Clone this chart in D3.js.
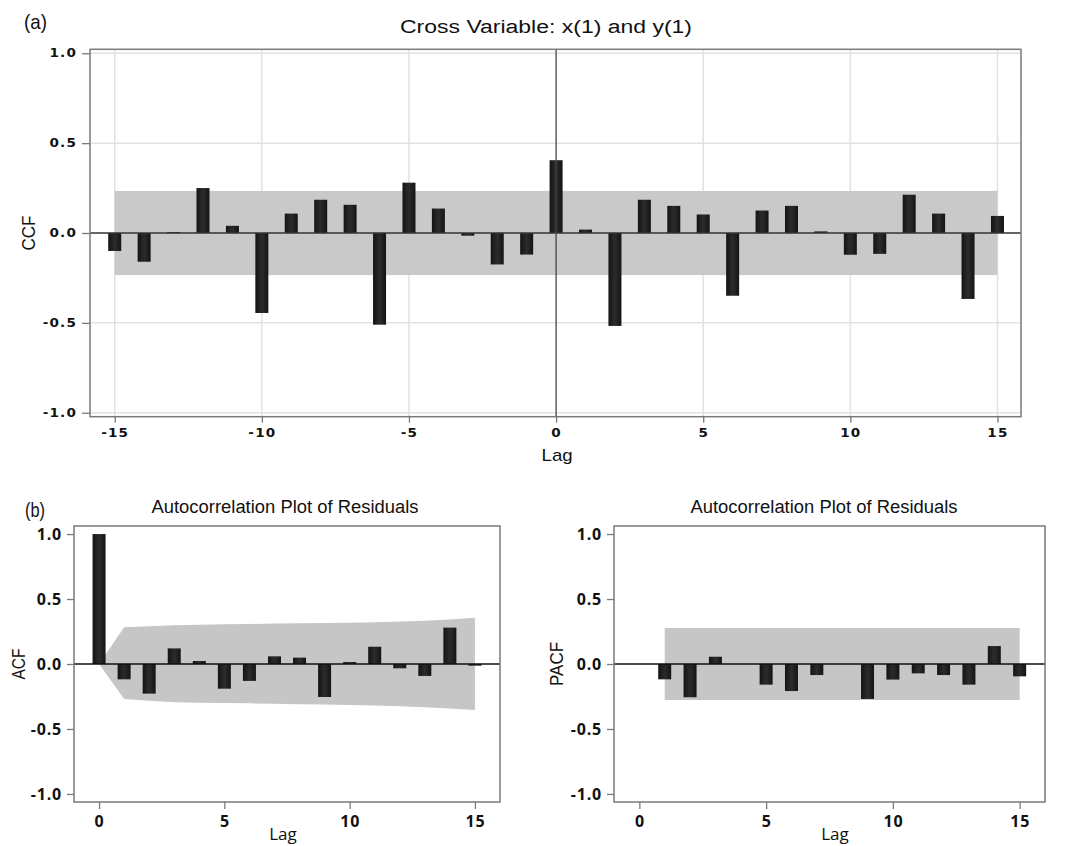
<!DOCTYPE html>
<html>
<head>
<meta charset="utf-8">
<script src="https://cdn.jsdelivr.net/npm/d3@7"></script>
<style>
  body { margin: 0; background: #fff; }
  svg { display: block; }
</style>
</head>
<body>
<svg id="chart" width="1068" height="846"></svg>
<script>
// panel (a): cross correlation
const ccf_lags = d3.range(-15, 16);
const ccf_values = [-0.10, -0.16, 0.005, 0.25, 0.04, -0.445, 0.108, 0.185, 0.157, -0.51, 0.28, 0.136, -0.015, -0.175, -0.12,
                    0.405, 0.019, -0.517, 0.185, 0.151, 0.103, -0.349, 0.125, 0.151, 0.009, -0.121, -0.116, 0.213, 0.108, -0.367, 0.095];
const ccf_limit = 0.234;
const ccf_x_ticks = [-15, -10, -5, 0, 5, 10, 15];
const ccf_y_ticks = [-1.0, -0.5, 0.0, 0.5, 1.0];

// panel (b): ACF / PACF of residuals
const acf_lags = d3.range(0, 16);
const acf_values = [1.0, -0.118, -0.228, 0.12, 0.023, -0.19, -0.13, 0.059, 0.049, -0.254, 0.015, 0.133, -0.033, -0.092, 0.28, -0.013];
const acf_upper = [0, 0.282, 0.29, 0.298, 0.302, 0.305, 0.308, 0.311, 0.313, 0.315, 0.318, 0.322, 0.327, 0.333, 0.342, 0.356];
const acf_lower = [0, -0.27, -0.283, -0.295, -0.298, -0.30, -0.303, -0.306, -0.309, -0.312, -0.316, -0.32, -0.326, -0.333, -0.343, -0.354];
const pacf_lags = d3.range(1, 16);
const pacf_values = [-0.118, -0.256, 0.056, 0, -0.159, -0.208, -0.085, 0, -0.269, -0.12, -0.072, -0.085, -0.159, 0.138, -0.095];
const pacf_limit = 0.277;
const resid_x_ticks = [0, 5, 10, 15];
const resid_y_ticks = [-1.0, -0.5, 0.0, 0.5, 1.0];

var svg = d3.select("svg#chart");

var defs = svg.append("defs");
var barGrad = defs.append("linearGradient")
    .attr("id", "barGrad")
    .attr("x1", "0%").attr("y1", "0%")
    .attr("x2", "100%").attr("y2", "0%");
barGrad.append("stop").attr("offset", 0).attr("stop-color", "#141414");
barGrad.append("stop").attr("offset", 0.5).attr("stop-color", "#2c2c2c");
barGrad.append("stop").attr("offset", 1).attr("stop-color", "#141414");

const FRAME_COLOR = "#7a7a7a";
const SANS = "'Liberation Sans', Arial, sans-serif";

// squeezed label text (the source figure uses a condensed face)
function label(x, y, txt, size, len, anchor, rotate) {
    var t = svg.append("text")
        .attr("text-anchor", anchor || "middle")
        .style("font-family", SANS)
        .style("font-size", size + "px")
        .attr("fill", "#111")
        .text(txt);
    if (rotate) t.attr("transform", "translate(" + x + "," + y + ") rotate(-90)");
    else t.attr("x", x).attr("y", y);
    if (len) t.attr("textLength", len).attr("lengthAdjust", "spacingAndGlyphs");
    return t;
}

function signed(fmt) {
    return d => (d < 0 ? "-" : "") + fmt(Math.abs(d));
}

function build_ccf_panel() {
    const left = 90, right = 1021, top = 49.3, bottom = 416.7;
    var x = d3.scaleLinear().domain([-15.84, 15.8]).range([left, right]);
    var y = d3.scaleLinear().domain([-1.022, 1.022]).range([bottom, top]);
    var g = svg.append("g");

    // grid
    g.selectAll(".vgrid").data(ccf_x_ticks.filter(d => d != 0)).enter().append("line")
        .attr("x1", d => x(d)).attr("x2", d => x(d))
        .attr("y1", top).attr("y2", bottom)
        .attr("stroke", "#e2e2e2").attr("stroke-width", 1.5);
    g.selectAll(".hgrid").data(ccf_y_ticks.filter(d => d != 0)).enter().append("line")
        .attr("x1", left).attr("x2", right)
        .attr("y1", d => y(d)).attr("y2", d => y(d))
        .attr("stroke", "#e2e2e2").attr("stroke-width", 1.5);

    // confidence band
    g.append("rect")
        .attr("x", x(-15)).attr("width", x(15) - x(-15))
        .attr("y", y(ccf_limit)).attr("height", y(-ccf_limit) - y(ccf_limit))
        .attr("fill", "#c9c9c9");

    // bars
    const bw = 13;
    g.selectAll(".bar").data(ccf_lags).enter().append("rect")
        .attr("x", d => x(d) - bw / 2)
        .attr("width", bw)
        .attr("y", (d, i) => y(Math.max(0, ccf_values[i])))
        .attr("height", (d, i) => Math.max(1, Math.abs(y(ccf_values[i]) - y(0))))
        .attr("fill", "url(#barGrad)");

    // zero lines
    g.append("line").attr("x1", left).attr("x2", right).attr("y1", y(0)).attr("y2", y(0))
        .attr("stroke", "#333").attr("stroke-width", 1.3);
    g.append("line").attr("x1", x(0)).attr("x2", x(0)).attr("y1", top).attr("y2", bottom)
        .attr("stroke", "#444").attr("stroke-width", 1.3);

    g.append("rect").attr("x", left).attr("y", top).attr("width", right - left).attr("height", bottom - top)
        .attr("fill", "none").attr("stroke", FRAME_COLOR).attr("stroke-width", 1.5);

    // wide bold tick labels, stretched horizontally
    const SX = 1.18;
    var xAxis = g.append("g").attr("transform", "translate(0," + bottom + ")")
        .call(d3.axisBottom(x).tickValues(ccf_x_ticks).tickSize(6).tickPadding(6).tickFormat(signed(d3.format("d"))));
    var yAxis = g.append("g").attr("transform", "translate(" + left + ",0)")
        .call(d3.axisLeft(y).tickValues(ccf_y_ticks).tickSize(8).tickPadding(4).tickFormat(signed(d3.format(".1f"))));
    [xAxis, yAxis].forEach(function(ax) {
        ax.select(".domain").remove();
        ax.selectAll("line").attr("stroke", FRAME_COLOR).attr("stroke-width", 1.3);
        ax.selectAll("text")
            .style("font-family", "'DejaVu Sans', Verdana, sans-serif")
            .style("font-weight", "bold")
            .style("font-size", "11.5px")
            .style("letter-spacing", "1px")
            .attr("fill", "#111")
            .attr("transform", "scale(" + SX + ",1)");
    });
    yAxis.selectAll("text").attr("x", -13 / SX);

    label(400, 33, "Cross Variable: x(1) and y(1)", 18, 292, "start");
    label(24, 29, "(a)", 21, 23, "start");
    label(35, y(0), "CCF", 18, 35, "middle", true);
    label(x(0) + 1, 461, "Lag", 17, 31);
}

function build_resid_panel(opts) {
    const left = opts.left, right = opts.right, top = 526, bottom = 802;
    var x = d3.scaleLinear().domain([-1, 16]).range([left, right]);
    var y = d3.scaleLinear().domain([-1.062, 1.062]).range([bottom, top]);
    var g = svg.append("g");

    if (opts.band_upper) {
        var area = d3.area()
            .x(d => x(d))
            .y0((d, i) => y(opts.band_lower[i]))
            .y1((d, i) => y(opts.band_upper[i]));
        g.append("path").datum(opts.lags).attr("d", area).attr("fill", "#c6c6c6");
    } else {
        g.append("rect")
            .attr("x", x(opts.lags[0])).attr("width", x(opts.lags[opts.lags.length - 1]) - x(opts.lags[0]))
            .attr("y", y(opts.limit)).attr("height", y(-opts.limit) - y(opts.limit))
            .attr("fill", "#c6c6c6");
    }

    const bw = 13;
    g.selectAll(".bar").data(opts.lags).enter().append("rect")
        .attr("x", d => x(d) - bw / 2)
        .attr("width", bw)
        .attr("y", (d, i) => y(Math.max(0, opts.values[i])))
        .attr("height", (d, i) => Math.abs(y(opts.values[i]) - y(0)))
        .attr("fill", "url(#barGrad)");

    g.append("line").attr("x1", left).attr("x2", right).attr("y1", y(0)).attr("y2", y(0))
        .attr("stroke", "#111").attr("stroke-width", 1.6);

    g.append("rect").attr("x", left).attr("y", top).attr("width", right - left).attr("height", bottom - top)
        .attr("fill", "none").attr("stroke", FRAME_COLOR).attr("stroke-width", 1.5);

    var xAxis = g.append("g").attr("transform", "translate(0," + bottom + ")")
        .call(d3.axisBottom(x).tickValues(resid_x_ticks).tickSize(7).tickPadding(7).tickFormat(d3.format("d")));
    var yAxis = g.append("g").attr("transform", "translate(" + left + ",0)")
        .call(d3.axisLeft(y).tickValues(resid_y_ticks).tickSize(7).tickPadding(5).tickFormat(signed(d3.format(".1f"))));
    [xAxis, yAxis].forEach(function(ax) {
        ax.select(".domain").remove();
        ax.selectAll("line").attr("stroke", FRAME_COLOR).attr("stroke-width", 1.3);
        ax.selectAll("text")
            .style("font-family", "'Open Sans', 'DejaVu Sans', sans-serif")
            .style("font-weight", "bold")
            .style("font-size", "16px")
            .style("letter-spacing", "0.8px")
            .attr("fill", "#111");
    });

    label(opts.title_x, 513, "Autocorrelation Plot of Residuals", 18, 267);
    label(opts.ylabel_x, y(0), opts.ylabel, 19, opts.ylabel_len, "middle", true);
    svg.append("text").attr("x", opts.lag_x).attr("y", 840)
        .attr("text-anchor", "middle")
        .style("font-family", "'Open Sans', sans-serif")
        .style("font-size", "17px")
        .attr("fill", "#111")
        .text("Lag");
}

build_ccf_panel();

build_resid_panel({
    left: 74, right: 500, lags: acf_lags, values: acf_values,
    band_upper: acf_upper, band_lower: acf_lower,
    title_x: 285, ylabel: "ACF", ylabel_x: 25, ylabel_len: 31, lag_x: 283
});
build_resid_panel({
    left: 614, right: 1045, lags: pacf_lags, values: pacf_values, limit: pacf_limit,
    title_x: 824, ylabel: "PACF", ylabel_x: 563, ylabel_len: 44, lag_x: 835
});

label(25, 517, "(b)", 21, 20, "start");
</script>
</body>
</html>
